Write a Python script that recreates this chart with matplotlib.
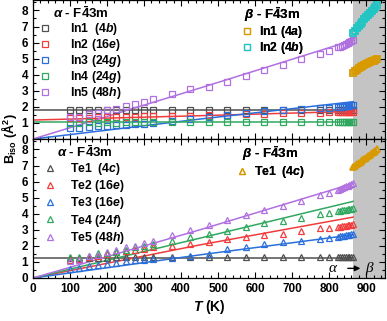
import matplotlib
matplotlib.use('Agg')
import matplotlib.pyplot as plt
from matplotlib.lines import Line2D
from matplotlib.ticker import MultipleLocator

plt.rcParams['font.family'] = 'Liberation Sans'
plt.rcParams['font.weight'] = 'bold'
plt.rcParams['mathtext.fontset'] = 'custom'
plt.rcParams['mathtext.rm'] = 'Liberation Sans:bold'
plt.rcParams['mathtext.bf'] = 'Liberation Sans:bold'
plt.rcParams['mathtext.it'] = 'Liberation Sans:bold:italic'
plt.rcParams['mathtext.bfit'] = 'Liberation Sans:bold:italic'

# ---- data ----
# alpha phase temperatures (K)
T_alpha = [100, 125, 150, 175, 200, 225, 250, 275, 300, 325, 375, 425, 475, 525, 575,
           625, 675, 725, 775, 800, 825, 830, 835, 840, 845, 850, 855, 860, 865]
# beta phase temperatures (K)
T_beta = [865, 870, 875, 880, 885, 890, 895, 900, 905, 910, 915, 920, 925, 930]

# In sites, alpha
In1 = [1.78, 1.78, 1.79, 1.78, 1.79, 1.78, 1.79, 1.78, 1.79, 1.78, 1.79, 1.80, 1.80, 1.79, 1.80,
       1.80, 1.80, 1.80, 1.80, 1.81, 1.81, 1.81, 1.81, 1.81, 1.81, 1.82, 1.82, 1.82, 1.82]
In2 = [1.28, 1.30, 1.32, 1.34, 1.36, 1.37, 1.38, 1.40, 1.41, 1.42, 1.44, 1.46, 1.49, 1.52, 1.55,
       1.58, 1.60, 1.62, 1.64, 1.65, 1.66, 1.67, 1.67, 1.68, 1.68, 1.69, 1.69, 1.70, 1.70]
In3 = [0.66, 0.70, 0.75, 0.78, 0.83, 0.85, 0.88, 0.92, 0.96, 0.99, 1.10, 1.25, 1.38, 1.48, 1.60,
       1.72, 1.78, 1.84, 1.90, 1.94, 1.98, 2.00, 2.02, 2.04, 2.05, 2.07, 2.08, 2.10, 2.12]
In4 = [1.00, 1.02, 1.03, 1.02, 1.03, 1.02, 1.03, 1.03, 1.04, 1.03, 1.04, 1.04, 1.05, 1.04, 1.05,
       1.05, 1.05, 1.05, 1.05, 1.05, 1.05, 1.05, 1.06, 1.05, 1.06, 1.05, 1.06, 1.06, 1.06]
In5 = [1.38, 1.40, 1.53, 1.60, 1.78, 1.85, 2.05, 2.16, 2.30, 2.46, 2.77, 3.10, 3.22, 3.55, 3.95,
       4.28, 4.62, 4.95, 5.28, 5.48, 5.70, 5.75, 5.80, 5.86, 5.91, 5.96, 6.02, 6.08, 6.14]
# In sites, beta
In1_b = [4.10, 4.22, 4.32, 4.42, 4.50, 4.57, 4.63, 4.69, 4.74, 4.79, 4.84, 4.88, 4.93, 4.98]
In2_b = [6.60, 6.75, 6.90, 7.03, 7.17, 7.30, 7.44, 7.57, 7.70, 7.83, 7.96, 8.09, 8.22, 8.35]

# Te sites, alpha
Te1 = [1.22, 1.25, 1.26, 1.27, 1.27, 1.28, 1.28, 1.28, 1.29, 1.28, 1.29, 1.29, 1.29, 1.29, 1.29,
       1.30, 1.30, 1.29, 1.30, 1.30, 1.30, 1.30, 1.30, 1.30, 1.30, 1.30, 1.30, 1.30, 1.30]
Te2 = [1.10, 1.20, 1.30, 1.40, 1.50, 1.60, 1.68, 1.75, 1.80, 1.90, 2.00, 2.13, 2.27, 2.42, 2.54,
       2.69, 2.75, 2.90, 3.10, 3.10, 3.18, 3.20, 3.22, 3.24, 3.26, 3.28, 3.30, 3.32, 3.35]
Te3 = [0.54, 0.65, 0.75, 0.80, 0.90, 0.94, 1.04, 1.10, 1.13, 1.16, 1.23, 1.38, 1.52, 1.79, 1.96,
       2.10, 2.21, 2.33, 2.42, 2.48, 2.58, 2.60, 2.62, 2.64, 2.66, 2.68, 2.70, 2.71, 2.73]
Te4 = [1.28, 1.30, 1.37, 1.54, 1.55, 1.60, 1.75, 1.90, 2.00, 2.10, 2.33, 2.54, 2.75, 2.95, 3.15,
       3.40, 3.55, 3.75, 4.00, 4.05, 4.18, 4.20, 4.22, 4.24, 4.26, 4.28, 4.30, 4.32, 4.33]
Te5 = [1.06, 1.13, 1.40, 1.46, 1.60, 1.75, 1.96, 2.00, 2.20, 2.33, 2.69, 2.96, 3.28, 3.58, 3.95,
       4.22, 4.45, 4.80, 5.15, 5.32, 5.50, 5.55, 5.60, 5.65, 5.70, 5.75, 5.80, 5.85, 5.90]
# Te site, beta
Te1_b = [6.90, 6.98, 7.07, 7.15, 7.24, 7.32, 7.41, 7.49, 7.58, 7.66, 7.75, 7.84, 7.93, 8.02]

# fitted curves (sampled at these temperatures)
T_fit = [0, 451, 865]
In_fit = {'In1': [1.80, 1.80, 1.80], 'In2': [1.18, 1.45, 1.72], 'In3': [0.0, 1.24, 2.32],
          'In4': [1.05, 1.05, 1.05], 'In5': [0.0, 3.17, 6.15]}
Te_fit = {'Te1': [1.22, 1.22, 1.22], 'Te2': [0.0, 2.06, 3.79], 'Te3': [0.0, 1.44, 2.69],
          'Te4': [0.0, 2.48, 4.77], 'Te5': [0.0, 3.00, 5.88]}

In_labels = ['In1  (4$\\mathbfit{b}$)', 'In2 (16$\\mathbfit{e}$)', 'In3 (24$\\mathbfit{g}$)',
             'In4 (24$\\mathbfit{g}$)', 'In5 (48$\\mathbfit{h}$)']
Te_labels = ['Te1  (4$\\mathbfit{c}$)', 'Te2 (16$\\mathbfit{e}$)', 'Te3 (16$\\mathbfit{e}$)',
             'Te4 (24$\\mathbfit{f}$)', 'Te5 (48$\\mathbfit{h}$)']

colors = ['#505050', '#f03c3c', '#2a6fdb', '#30a860', '#b070e0']
orange = '#d99a00'
cyan = '#22c4c4'

T_trans = 865
T_max = 951

fig = plt.figure(figsize=(3.87, 3.21), dpi=100)
ax1 = fig.add_axes([33 / 387, 182 / 321, 352 / 387, 139 / 321])
ax2 = fig.add_axes([33 / 387, 43 / 321, 352 / 387, 139 / 321])

for ax in (ax1, ax2):
    ax.axvspan(T_trans, T_max, color='#c4c4c4', lw=0, zorder=0)
    ax.set_xlim(0, T_max)
    ax.set_ylim(0, 8.65)
    ax.xaxis.set_major_locator(MultipleLocator(100))
    ax.xaxis.set_minor_locator(MultipleLocator(20))
    ax.yaxis.set_major_locator(MultipleLocator(1))
    ax.yaxis.set_minor_locator(MultipleLocator(0.5))
    ax.tick_params(which='both', direction='in', top=True, right=True, labelsize=8.5, width=0.8)
    ax.tick_params(which='major', length=4)
    ax.tick_params(which='minor', length=2)
    for s in ax.spines.values():
        s.set_linewidth(0.9)
ax1.tick_params(labelbottom=False)

# upper panel: In
series_in = [In1, In2, In3, In4, In5]
for vals, key, c in zip(series_in, ['In1', 'In2', 'In3', 'In4', 'In5'], colors):
    ax1.plot(T_fit, In_fit[key], color=c, lw=1.1, zorder=2)
    ax1.plot(T_alpha, vals, ls='none', marker='s', ms=4, mfc='none', mec=c, mew=0.9, zorder=3)
ax1.plot(T_beta, In1_b, ls='none', marker='s', ms=4, mfc='none', mec=orange, mew=1.3, zorder=3)
ax1.plot(T_beta, In2_b, ls='none', marker='s', ms=4, mfc='none', mec=cyan, mew=1.3, zorder=3)

# lower panel: Te
series_te = [Te1, Te2, Te3, Te4, Te5]
for vals, key, c in zip(series_te, ['Te1', 'Te2', 'Te3', 'Te4', 'Te5'], colors):
    ax2.plot(T_fit, Te_fit[key], color=c, lw=1.1, zorder=2)
    ax2.plot(T_alpha, vals, ls='none', marker='^', ms=4.5, mfc='none', mec=c, mew=0.9, zorder=3)
ax2.plot(T_beta, Te1_b, ls='none', marker='^', ms=4.5, mfc='none', mec=orange, mew=1.3, zorder=3)

# legends
alpha_title = '$\\mathbfit{\\alpha}$ - F$\\bar{\\mathbf{4}}$3m'
beta_title = '$\\mathbfit{\\beta}$ - F$\\bar{\\mathbf{4}}$3m'


def make_handles(cols, marker, size):
    return [Line2D([], [], ls='none', marker=marker, ms=size, mfc='none', mec=c, mew=0.9) for c in cols]


def add_legend(ax, handles, labels, title, anchor, pad, spacing):
    leg = ax.legend(handles, labels, title=title, loc='upper left', bbox_to_anchor=anchor,
                    frameon=False, handlelength=1.0, handletextpad=pad, labelspacing=spacing,
                    borderpad=0, borderaxespad=0, fontsize=8.8, title_fontsize=9.5)
    leg.get_title().set_fontweight('bold')
    ax.add_artist(leg)


add_legend(ax1, make_handles(colors, 's', 4), In_labels, alpha_title, (0.016, 0.96), 1.6, 0.0)
add_legend(ax1, make_handles([orange, cyan], 's', 4), ['In1 (4$\\mathbfit{a}$)', 'In2 (4$\\mathbfit{b}$)'],
           beta_title, (0.59, 0.96), 0.5, 0.0)
add_legend(ax2, make_handles(colors, '^', 4.5), Te_labels, alpha_title, (0.03, 0.965), 1.2, 0.1)
add_legend(ax2, make_handles([orange], '^', 4.5), ['Te1  (4$\\mathbfit{c}$)'],
           beta_title, (0.575, 0.965), 0.5, 0.1)

# phase transition arrow
ax2.text(810, 0.6, '\u03b1', family='Liberation Serif', style='italic', fontweight='normal',
         fontsize=11, ha='center', va='center')
ax2.annotate('', xy=(892, 0.6), xytext=(843, 0.6),
             arrowprops=dict(arrowstyle='-|>', color='black', lw=1.0, mutation_scale=8))
ax2.text(908, 0.6, '\u03b2', family='Liberation Serif', style='italic', fontweight='normal',
         fontsize=11, ha='center', va='center')

ax2.set_xlabel('$\\mathbfit{T}$ (K)', fontsize=10, fontweight='bold', labelpad=2)
fig.text(0.022, 182 / 321, '$\\mathbf{B}_{\\mathbf{iso}}$ (\u00c5$^{\\mathbf{2}}$)', rotation=90,
         ha='center', va='center', fontsize=9.2, fontweight='bold')

fig.savefig('out.png', dpi=100)
